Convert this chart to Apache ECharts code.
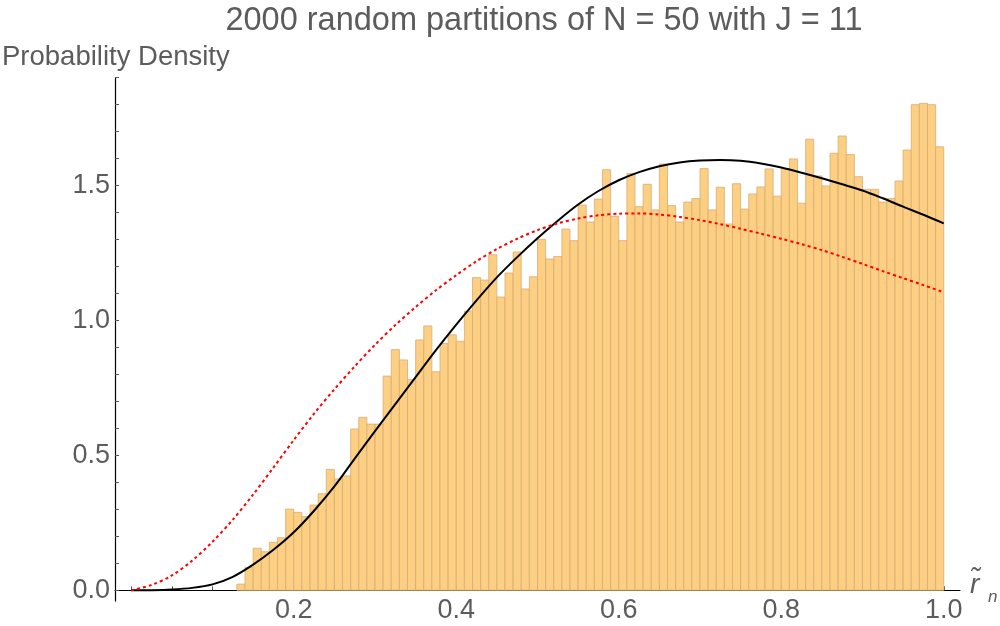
<!DOCTYPE html>
<html><head><meta charset="utf-8">
<script src="https://cdn.jsdelivr.net/npm/echarts@6/dist/echarts.min.js"></script>
<style>html,body{margin:0;padding:0;background:#fff}#c{width:1000px;height:626px}</style>
</head><body><div id="c"></div>
<script>
// Histogram: bins of width 0.01 starting at 0.13
const binStart = 0.13;
const binWidth = 0.01;
const densities = [
  0.023, 0.085, 0.156, 0.143, 0.178, 0.195, 0.301, 0.289, 0.273, 0.316,
  0.358, 0.448, 0.413, 0.424, 0.598, 0.641, 0.616, 0.616, 0.794, 0.892,
  0.854, 0.781, 0.928, 0.980, 0.810, 0.915, 0.947, 0.923, 1.035, 1.159,
  1.150, 1.244, 1.087, 1.176, 1.254, 1.117, 1.162, 1.301, 1.228, 1.237,
  1.339, 1.296, 1.428, 1.365, 1.450, 1.559, 1.386, 1.296, 1.545, 1.422,
  1.505, 1.410, 1.580, 1.426, 1.365, 1.439, 1.452, 1.563, 1.410, 1.494,
  1.358, 1.507, 1.413, 1.469, 1.495, 1.562, 1.461, 1.563, 1.599, 1.435,
  1.672, 1.536, 1.499, 1.620, 1.684, 1.615, 1.533, 1.486, 1.486, 1.439,
  1.452, 1.517, 1.632, 1.800, 1.805, 1.800, 1.644
];
// Solid black curve
const blackCurve = [
  [0,0],[0.025,0.0005],[0.05,0.003],[0.075,0.009],[0.1,0.022],[0.125,0.05],[0.15,0.095],
  [0.175,0.15],[0.2,0.215],[0.225,0.295],[0.25,0.385],[0.275,0.488],[0.3,0.59],[0.325,0.69],
  [0.35,0.79],[0.375,0.89],[0.4,0.985],[0.425,1.075],[0.45,1.16],[0.475,1.235],[0.5,1.305],
  [0.525,1.37],[0.55,1.43],[0.575,1.48],[0.6,1.52],[0.625,1.55],[0.65,1.572],[0.675,1.586],
  [0.7,1.593],[0.725,1.595],[0.75,1.592],[0.775,1.582],[0.8,1.567],[0.825,1.548],[0.85,1.527],
  [0.875,1.505],[0.9,1.482],[0.925,1.453],[0.95,1.422],[0.975,1.392],[1.0,1.36]
];
// Dotted red curve
const redCurve = [
  [0,0],[0.025,0.02],[0.05,0.055],[0.075,0.11],[0.1,0.18],[0.125,0.262],[0.15,0.355],
  [0.175,0.455],[0.2,0.557],[0.225,0.655],[0.25,0.745],[0.275,0.83],[0.3,0.91],[0.325,0.983],
  [0.35,1.05],[0.375,1.112],[0.4,1.168],[0.425,1.22],[0.45,1.265],[0.475,1.303],[0.5,1.335],
  [0.525,1.36],[0.55,1.378],[0.575,1.39],[0.6,1.396],[0.625,1.397],[0.65,1.393],[0.675,1.384],
  [0.7,1.372],[0.725,1.357],[0.75,1.34],[0.775,1.322],[0.8,1.303],[0.825,1.283],[0.85,1.261],
  [0.875,1.236],[0.9,1.21],[0.925,1.183],[0.95,1.157],[0.975,1.131],[1.0,1.105]
];
const xTickLabels = [0.2, 0.4, 0.6, 0.8, 1.0];
const xTicks = [0,0.05,0.1,0.15,0.2,0.25,0.3,0.35,0.4,0.45,0.5,0.55,0.6,0.65,0.7,0.75,0.8,0.85,0.9,0.95,1.0];
const yTickLabels = [0, 0.5, 1.0, 1.5];
const yTicks = [0,0.1,0.2,0.3,0.4,0.5,0.6,0.7,0.8,0.9,1.0,1.1,1.2,1.3,1.4,1.5,1.6,1.7,1.8,1.9];
const titleText = '2000 random partitions of N = 50 with J = 11';
const yName = 'Probability Density';

const textColor = '#5c5c5c';
const font = "'Liberation Sans', Arial, sans-serif";
const bins = densities.map((d, i) => [binStart + i * binWidth, binStart + (i + 1) * binWidth, d]);

const chart = echarts.init(document.getElementById('c'), null, {renderer: 'canvas'});
chart.setOption({
  animation: false,
  backgroundColor: '#fff',
  title: {
    text: titleText, left: 539, textAlign: 'center', top: 0,
    textStyle: {fontSize: 32.5, fontWeight: 'normal', color: textColor, fontFamily: font}
  },
  grid: {left: 115, right: 40, top: 77.7, bottom: 24.9, outerBoundsMode: 'none'},
  xAxis: {
    type: 'value', min: -0.02, max: 1.02,
    axisLine: {show: true, onZero: true, lineStyle: {color: '#000', width: 1.2}},
    axisTick: {show: true, inside: true, length: 4, customValues: xTicks, lineStyle: {color: '#555'}},
    axisLabel: {customValues: xTickLabels, formatter: v => v.toFixed(1), fontSize: 27, color: textColor, fontFamily: font, margin: -4},
    splitLine: {show: false}
  },
  yAxis: {
    type: 'value', min: -0.04, max: 1.9,
    axisLine: {show: true, onZero: false, lineStyle: {color: '#000', width: 1.2}},
    axisTick: {show: true, inside: true, length: 4, customValues: yTicks, lineStyle: {color: '#555'}},
    axisLabel: {customValues: yTickLabels, formatter: v => v.toFixed(1), fontSize: 27, color: textColor, fontFamily: font, margin: 5},
    splitLine: {show: false}
  },
  graphic: [
    {type: 'text', left: 2, top: 43, style: {text: yName, fontSize: 27.5, fill: textColor, fontFamily: font}},
    {type: 'text', left: 970, top: 571, style: {text: 'r\u0303', fontSize: 28, fontStyle: 'italic', fill: textColor, fontFamily: font}},
    {type: 'text', left: 988, top: 589, style: {text: 'n', fontSize: 17, fontStyle: 'italic', fill: textColor, fontFamily: font}}
  ],
  series: [
    {
      type: 'custom', name: 'histogram', data: bins, encode: {x: [0, 1], y: 2}, z: 1,
      renderItem: function (params, api) {
        const p0 = api.coord([api.value(0), api.value(2)]);
        const p1 = api.coord([api.value(1), 0]);
        return {type: 'rect', shape: {x: p0[0], y: p0[1], width: p1[0] - p0[0], height: p1[1] - p0[1]},
                style: {fill: '#fdcf83', stroke: '#d6ad74', lineWidth: 0.8}};
      }
    },
    {type: 'line', name: 'black', data: blackCurve, smooth: 0.3, showSymbol: false, z: 3,
     lineStyle: {color: '#000', width: 2}},
    {type: 'line', name: 'red', data: redCurve, smooth: 0.3, showSymbol: false, z: 3,
     lineStyle: {color: '#ff0000', width: 2, type: [3, 3]}}
  ]
});
</script></body></html>
